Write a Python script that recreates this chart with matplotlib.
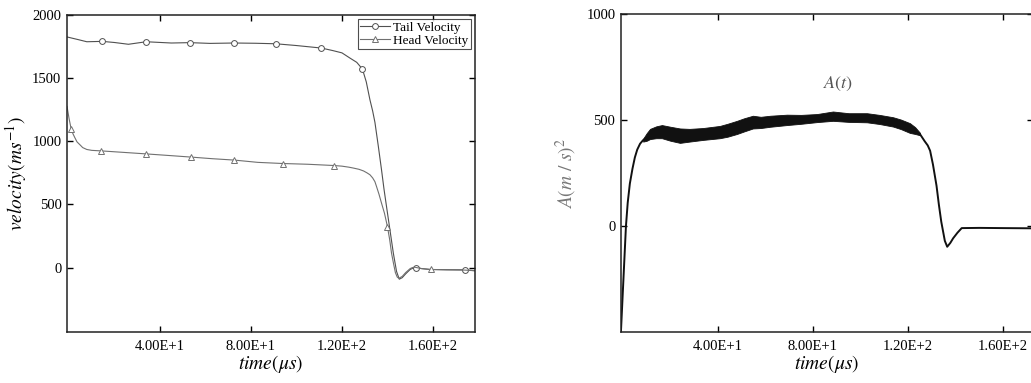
import numpy as np
import matplotlib
matplotlib.use("Agg")
import matplotlib.pyplot as plt

plt.rcParams['font.family'] = 'serif'
plt.rcParams['font.serif'] = ['Liberation Serif', 'DejaVu Serif']
plt.rcParams['mathtext.fontset'] = 'stix'

# ---- 速度曲线 (左图) ----
tail_t = [-0.9, 4, 7.8, 14.6, 20, 26.1, 33.9, 45, 53.1, 62, 72.5, 82, 90.9, 100,
          111, 116, 120, 123.5, 126.5, 129, 130.7, 132.3, 133.5, 134.5, 136, 137.4,
          138.5, 139.6, 141.1, 142.6, 144, 145.2, 146.5, 148, 150, 151.5, 152.6,
          155, 158.6, 166, 174, 178.5]
tail_v = [1826, 1805, 1788, 1791, 1782, 1768, 1788, 1778, 1781, 1775, 1778, 1776, 1772, 1758,
          1738, 1718, 1700, 1659, 1625, 1572, 1470, 1329, 1240, 1150, 960, 774,
          620, 483, 299, 114, -30, -92, -80, -50, -15, -2, 0,
          -8, -15, -17, -18, -25]
tail_marks = [3, 6, 8, 10, 12, 14, 19, 36, 40]

head_t = [-0.9, 0, 0.9, 1.7, 2.5, 3.5, 4.8, 6, 7.8, 10, 14, 24, 33.9, 45, 53.5, 63,
          72.7, 83, 93.9, 105, 116.5, 120, 123, 125, 127.5, 129.5, 131, 132.3, 133.5,
          134.5, 135.2, 136.3, 137.4, 138.7, 140, 141, 141.8, 142.7, 143.5, 144.3,
          145, 146.5, 148, 150, 151, 152, 155, 159, 166, 174, 178.5]
head_v = [1276, 1180, 1099, 1060, 1030, 995, 972, 950, 935, 928, 924, 912, 900, 886, 875, 862,
          851, 833, 824, 818, 808, 803, 795, 788, 778, 765, 750, 735, 710,
          680, 642, 580, 510, 430, 325, 220, 114, 30, -40, -75,
          -85, -70, -40, -8, 0, 3, -8, -15, -18, -20, -25]
head_marks = [2, 10, 12, 14, 16, 18, 20, 34, 47]

# ---- A(t) 曲线 (右图) ----
a_t = [-0.84, 0.2, 1.26, 2, 2.9, 4, 5.0, 6, 7.2, 8.5, 10, 16.4, 24, 33.7, 40.8, 48,
       54.7, 62, 69, 81.7, 88.4, 102.7, 113.7, 120.8, 125, 127, 128.3, 129.3, 130.5,
       132, 133, 134, 135.5, 136.5, 137.8, 139, 140.8, 142.6, 150, 160, 172.6]
a_v = [-495, -250, 0, 110, 200, 270, 323, 360, 388, 405, 417, 446, 425, 435, 444, 466,
       491, 495, 501, 510, 519, 511, 492, 462, 434, 400, 380, 355, 290,
       190, 100, 20, -70, -98, -80, -58, -32, -10, -9, -10, -11]

# 平台段的波动包络
band_t = [8.5, 10, 11.4, 14, 16.4, 20, 24, 28, 33.7, 40.8, 44, 48, 51, 54.7, 58, 62,
          69, 75, 81.7, 88.4, 95, 102.7, 108, 113.7, 117, 120.8, 123, 125]
band_hi = [412, 438, 458, 470, 476, 468, 460, 458, 462, 472, 482, 496, 508, 520, 515, 520,
           525, 524, 528, 540, 532, 532, 524, 513, 502, 485, 466, 440]
band_lo = [398, 402, 410, 414, 414, 402, 392, 398, 406, 414, 421, 434, 446, 460, 462, 468,
           476, 482, 490, 496, 491, 489, 481, 469, 457, 439, 434, 428]

xticks = [40, 80, 120, 160]
xtick_labels = ['4.00E+1', '8.00E+1', '1.20E+2', '1.60E+2']
left_yticks = [0, 500, 1000, 1500, 2000]
right_yticks = [0, 500, 1000]

fig = plt.figure(figsize=(10.31, 3.83), dpi=100)
ax1 = fig.add_axes([0.065, 0.1332, 0.3957, 0.8277])
ax2 = fig.add_axes([0.6023, 0.1332, 0.3996, 0.8303])

for ax in (ax1, ax2):
    ax.tick_params(direction='in', top=True, right=True, length=4, width=1,
                   labelsize=10.5, pad=4)
    ax.tick_params(axis='x', pad=6)
    for s in ax.spines.values():
        s.set_linewidth(1.1)
        s.set_color('#222222')
    ax.set_xticks(xticks)
    ax.set_xticklabels(xtick_labels)
    ax.set_xlabel(r'$time(\mu s)$', fontsize=14, labelpad=0)

# 左图
ax1.plot(tail_t, tail_v, color='#505050', lw=0.8, marker='o', markersize=4.2,
         markerfacecolor='white', markeredgewidth=0.7, markevery=tail_marks,
         label='Tail Velocity')
ax1.plot(head_t, head_v, color='#707070', lw=0.8, marker='^', markersize=4.2,
         markerfacecolor='white', markeredgewidth=0.7, markevery=head_marks,
         label='Head Velocity')
ax1.set_xlim(-0.9, 178.5)
ax1.set_ylim(-510, 2000)
ax1.set_yticks(left_yticks)
ax1.set_ylabel(r'$velocity(ms^{-1})$', fontsize=14, labelpad=2)
leg = ax1.legend(loc='upper right', fontsize=9.5, frameon=True, fancybox=False,
                 edgecolor='#222222', borderaxespad=0.3, borderpad=0.2,
                 handlelength=2.3, handletextpad=0.2, labelspacing=0.05)
leg.get_frame().set_linewidth(0.8)

# 右图
ax2.fill_between(band_t, band_lo, band_hi, color='#111111', lw=0.6, edgecolor='#111111')
ax2.plot(a_t, a_v, color='#111111', lw=1.4)
ax2.text(90.5, 668, r'$A(t)$', fontsize=13, color='#555555', ha='center', va='center')
ax2.set_xlim(-0.84, 172.6)
ax2.set_ylim(-500, 1000)
ax2.set_yticks(right_yticks)
ax2.set_ylabel(r'$A(m\ /\ s)^2$', fontsize=14, color='#777777', labelpad=5)

fig.savefig('out.png', dpi=100)
